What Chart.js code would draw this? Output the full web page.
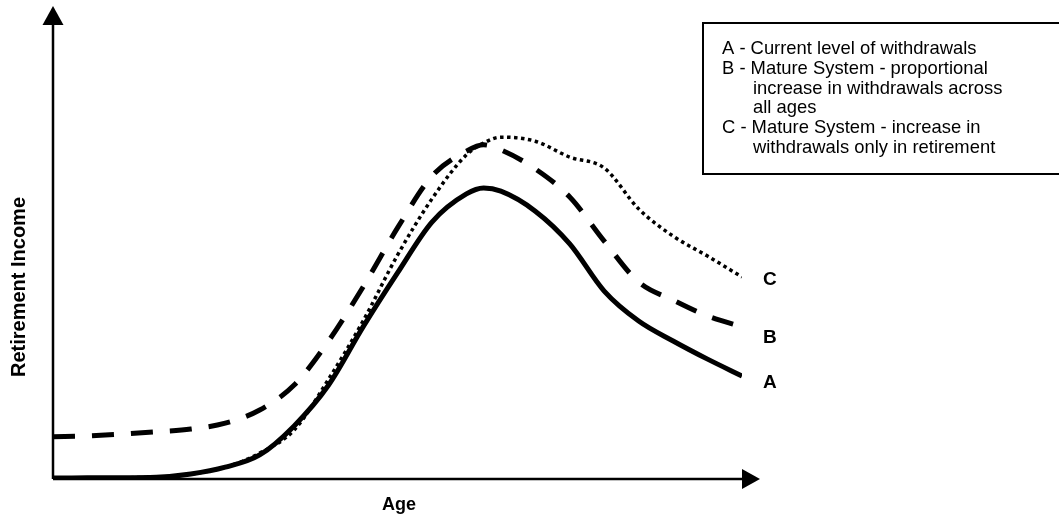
<!DOCTYPE html>
<html>
<head>
<meta charset="utf-8">
<script src="https://cdn.jsdelivr.net/npm/chart.js@4"></script>
<style>
  html, body { margin: 0; padding: 0; background: #fff; }
  #wrap { width: 1059px; height: 522px; }
</style>
</head>
<body>
<div id="wrap"><canvas id="chart" width="1059" height="522"></canvas></div>
<script>
// age (arbitrary units along the x axis, no ticks shown)
const ages = [0, 5, 10, 15, 20, 25, 30, 35, 40, 45, 50, 55, 60, 62.5, 65, 70, 75, 80, 85, 90, 95, 100];
// A - current level of withdrawals
const incomeA = [0.2, 0.3, 0.3, 0.4, 1.1, 2.6, 5.3, 11.7, 20.7, 33.5, 45.4, 56.6, 62.8, 64.1, 63.4, 59.0, 51.8, 41.4, 34.8, 30.4, 26.4, 22.7];
// B - mature system, proportional increase across all ages
const incomeB = [9.3, 9.5, 9.9, 10.4, 11.0, 12.3, 15.2, 20.7, 30.4, 42.3, 55.3, 66.7, 72.2, 73.6, 72.5, 68.3, 62.1, 52.4, 43.4, 39.4, 35.9, 33.5];
// C - mature system, increase only in retirement
const incomeC = [0.2, 0.3, 0.3, 0.4, 1.1, 2.6, 5.7, 10.8, 22.0, 34.8, 49.3, 61.7, 71.4, 74.0, 75.3, 74.4, 70.9, 68.5, 59.5, 53.5, 49.1, 44.5];

const seriesLabels = ['A', 'B', 'C'];
const legendLines = [
  'A - Current level of withdrawals',
  'B - Mature System - proportional',
  '    increase in withdrawals across',
  '    all ages',
  'C - Mature System - increase in',
  '    withdrawals only in retirement'
];
const xTitle = 'Age';
const yTitle = 'Retirement Income';

function pts(vals) {
  return ages.map((a, i) => ({ x: a, y: vals[i] }));
}

const decorations = {
  id: 'decorations',
  afterDraw(chart) {
    const ctx = chart.ctx;
    const area = chart.chartArea;
    ctx.save();
    ctx.fillStyle = '#000';
    ctx.strokeStyle = '#000';

    // axes with arrow heads
    ctx.lineWidth = 2.5;
    ctx.beginPath();
    ctx.moveTo(area.left, area.bottom);
    ctx.lineTo(area.left, area.top);
    ctx.moveTo(area.left, area.bottom);
    ctx.lineTo(area.right, area.bottom);
    ctx.stroke();
    ctx.beginPath();
    ctx.moveTo(area.left - 10.5, area.top);
    ctx.lineTo(area.left + 10.5, area.top);
    ctx.lineTo(area.left, area.top - 19);
    ctx.closePath();
    ctx.fill();
    ctx.beginPath();
    ctx.moveTo(area.right, area.bottom - 10);
    ctx.lineTo(area.right, area.bottom + 10);
    ctx.lineTo(area.right + 18, area.bottom);
    ctx.closePath();
    ctx.fill();

    // axis titles
    ctx.font = 'bold 18px "Liberation Sans", Arial, sans-serif';
    ctx.textAlign = 'center';
    ctx.textBaseline = 'alphabetic';
    ctx.fillText(xTitle, 399, 510);
    ctx.save();
    ctx.translate(25, 287);
    ctx.rotate(-Math.PI / 2);
    ctx.font = 'bold 20px "Liberation Sans", Arial, sans-serif';
    ctx.fillText(yTitle, 0, 0);
    ctx.restore();

    // series end labels
    ctx.font = 'bold 19px "Liberation Sans", Arial, sans-serif';
    ctx.textAlign = 'left';
    const ys = [388, 343, 285];
    seriesLabels.forEach((s, i) => ctx.fillText(s, 763, ys[i]));

    // legend box
    ctx.lineWidth = 2;
    ctx.strokeRect(703, 23, 400, 151);
    ctx.font = '18.4px "Liberation Sans", Arial, sans-serif';
    legendLines.forEach((line, i) => {
      const indent = line.startsWith('    ');
      ctx.fillText(line.trim(), indent ? 753 : 722, 54 + i * 19.8);
    });
    ctx.restore();
  }
};

const ctx = document.getElementById('chart').getContext('2d');
const chart = new Chart(ctx, {
  type: 'line',
  data: {
    datasets: [
      {
        label: 'A',
        data: pts(incomeA),
        borderColor: '#000',
        borderWidth: 5,
        pointRadius: 0,
        cubicInterpolationMode: 'monotone',
        fill: false
      },
      {
        label: 'B',
        data: pts(incomeB),
        borderColor: '#000',
        borderWidth: 5,
        borderDash: [22, 17],
        pointRadius: 0,
        cubicInterpolationMode: 'monotone',
        fill: false
      },
      {
        label: 'C',
        data: pts(incomeC),
        borderColor: '#000',
        borderWidth: 3.5,
        borderDash: [3.5, 3.5],
        pointRadius: 0,
        cubicInterpolationMode: 'monotone',
        fill: false
      }
    ]
  },
  options: {
    responsive: false,
    animation: false,
    layout: { padding: { left: 53, right: 317, top: 25, bottom: 43 } },
    plugins: { legend: { display: false }, tooltip: { enabled: false } },
    scales: {
      x: { type: 'linear', min: 0, max: 100, display: false },
      y: { min: 0, max: 100, display: false }
    }
  },
  plugins: [decorations]
});
</script>
</body>
</html>
